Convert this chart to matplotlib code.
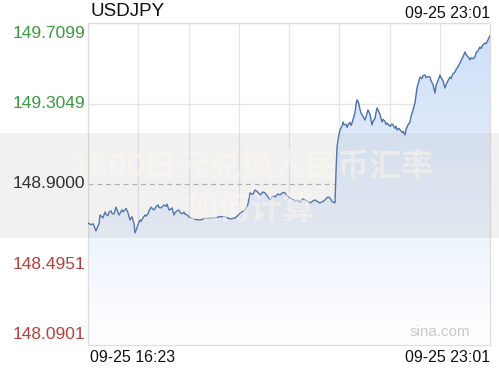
import numpy as np
import matplotlib
matplotlib.use("Agg")
import matplotlib.pyplot as plt
from matplotlib.patches import Rectangle
import matplotlib.transforms as mtransforms

plt.rcParams['font.family'] = ['Liberation Sans', 'Noto Sans CJK SC', 'DejaVu Sans']

title = "USDJPY"
time_start = "09-25 16:23"
time_end = "09-25 23:01"
total_minutes = 402
y_ticks = [149.7099, 149.3049, 148.9000, 148.4951, 148.0901]
y_tick_labels = ["149.7099", "149.3049", "148.9000", "148.4951", "148.0901"]
y_tick_colors = ["#3a9a3f", "#3a9a3f", "#222222", "#b8403a", "#b8403a"]
watermark_line1 = "1800日元兑换人民币汇率"
watermark_line2 = "如何计算"
source = "sina.com"

minutes = [0, 2, 3, 5, 6, 8, 10, 11, 12, 14, 15, 17, 18, 20, 21, 23, 24, 26, 28, 29, 31,
           32, 34, 35, 37, 38, 40, 42, 43, 44, 46, 47, 49, 50, 52, 53, 55, 57, 58, 60, 61,
           63, 65, 66, 68, 70, 71, 73, 75, 76, 78, 79, 81, 83, 84, 86, 87, 89, 91, 92, 94,
           96, 97, 99, 102, 107, 112, 117, 122, 127, 132, 137, 142, 147, 150, 152, 155,
           157, 160, 162, 165, 167, 170, 172, 175, 177, 180, 182, 185, 187, 190, 192, 195,
           197, 200, 202, 205, 207, 210, 212, 215, 217, 220, 222, 225, 227, 230, 232, 235,
           237, 240, 242, 244, 245, 247, 248, 249, 250, 251, 252, 254, 255, 256, 258, 259,
           260, 262, 263, 264, 266, 267, 268, 269, 270, 271, 272, 273, 275, 276, 277, 279,
           280, 281, 282, 284, 285, 287, 288, 289, 291, 292, 294, 295, 297, 298, 299, 301,
           302, 304, 305, 307, 308, 309, 311, 312, 314, 315, 317, 318, 320, 322, 323, 325,
           327, 329, 331, 332, 334, 335, 337, 338, 340, 342, 343, 345, 347, 348, 350, 352,
           353, 355, 357, 358, 360, 362, 363, 365, 367, 368, 370, 372, 373, 375, 377, 378,
           380, 382, 383, 385, 387, 388, 390, 392, 393, 395, 397, 398, 400, 402]
prices = [148.704, 148.698, 148.695, 148.700, 148.690, 148.664, 148.690, 148.700, 148.744,
          148.735, 148.730, 148.759, 148.748, 148.740, 148.758, 148.765, 148.752, 148.749,
          148.784, 148.770, 148.744, 148.752, 148.770, 148.760, 148.769, 148.778, 148.755,
          148.719, 148.728, 148.735, 148.700, 148.654, 148.680, 148.695, 148.719, 148.712,
          148.730, 148.744, 148.738, 148.750, 148.765, 148.784, 148.772, 148.770, 148.785,
          148.795, 148.782, 148.780, 148.790, 148.794, 148.788, 148.799, 148.769, 148.775,
          148.780, 148.744, 148.755, 148.765, 148.769, 148.758, 148.750, 148.759, 148.748,
          148.745, 148.729, 148.722, 148.719, 148.726, 148.729, 148.729, 148.736, 148.735,
          148.724, 148.729, 148.742, 148.754, 148.762, 148.769, 148.800, 148.855, 148.848,
          148.870, 148.858, 148.845, 148.860, 148.855, 148.835, 148.820, 148.840, 148.835,
          148.850, 148.845, 148.858, 148.855, 148.838, 148.830, 148.822, 148.815, 148.818,
          148.810, 148.825, 148.820, 148.812, 148.805, 148.815, 148.820, 148.810, 148.805,
          148.812, 148.820, 148.835, 148.830, 148.812, 148.810, 148.805, 148.960,
          149.086, 149.120, 149.150, 149.172, 149.190, 149.212, 149.198, 149.200, 149.185,
          149.197, 149.210, 149.195, 149.207, 149.240, 149.260, 149.300, 149.323, 149.315,
          149.300, 149.275, 149.257, 149.240, 149.232, 149.222, 149.255, 149.272, 149.262,
          149.250, 149.197, 149.215, 149.230, 149.260, 149.282, 149.262, 149.250, 149.212,
          149.225, 149.215, 149.200, 149.207, 149.195, 149.190, 149.202, 149.197, 149.180,
          149.190, 149.172, 149.180, 149.172, 149.160, 149.165, 149.147, 149.175, 149.197,
          149.212, 149.240, 149.272, 149.308, 149.383, 149.420, 149.438, 149.430, 149.445,
          149.448, 149.436, 149.440, 149.438, 149.420, 149.400, 149.358, 149.395, 149.420,
          149.448, 149.435, 149.420, 149.383, 149.400, 149.420, 149.438, 149.430, 149.455,
          149.463, 149.475, 149.490, 149.509, 149.520, 149.540, 149.564, 149.552, 149.540,
          149.524, 149.535, 149.530, 149.539, 149.560, 149.570, 149.589, 149.582, 149.600,
          149.609, 149.605, 149.625, 149.645]

W, H = 499, 370
fig = plt.figure(figsize=(W / 100, H / 100), dpi=100)
fig.patch.set_facecolor("white")
ax = fig.add_axes([88 / W, 25 / H, (490 - 88) / W, (345 - 23) / H])
ax.set_xlim(0, total_minutes)
ymin, ymax = y_ticks[-1], y_ticks[0]
ax.set_ylim(ymin, ymax)

# grid
for i in range(9):
    ax.axvline(total_minutes * i / 8, color="#e4e4e4", lw=0.9, zorder=1)
for v in y_ticks:
    if abs(v - 148.9) < 1e-6:
        ax.axhline(v, color="#b5b5b5", lw=0.9, ls=(0, (4, 3)), zorder=1)
    else:
        ax.axhline(v, color="#e4e4e4", lw=0.9, zorder=1)

# gradient fill under the line
x = np.array(minutes, dtype=float)
y = np.array(prices)
poly = ax.fill_between(x, y, ymin, color="none", lw=0)
grad = np.linspace(0, 1, 256).reshape(-1, 1)
top = np.array([0.80, 0.87, 0.97])
bot = np.array([1.0, 1.0, 1.0])
img = top[None, None, :] * (1 - grad[:, :, None]) + bot[None, None, :] * grad[:, :, None]
im = ax.imshow(img, extent=[0, total_minutes, ymin, ymax], aspect="auto", origin="upper", zorder=2)
path = poly.get_paths()[0]
im.set_clip_path(path, transform=ax.transData)
ax.plot(x, y, color="#4b72ad", lw=1.0, zorder=3)

for s in ax.spines.values():
    s.set_color("#dddddd")
    s.set_linewidth(0.9)
ax.set_xticks([])
ax.set_yticks([])

# y labels
trans = mtransforms.blended_transform_factory(fig.transFigure, ax.transData)
n = len(y_ticks)
for i, (v, lab, c) in enumerate(zip(y_ticks, y_tick_labels, y_tick_colors)):
    va = "top" if i == 0 else ("bottom" if i == n - 1 else "center")
    off = -2 if i == 0 else (2 if i == n - 1 else 0)
    ax.annotate(lab, xy=(85 / W, v), xycoords=trans, xytext=(0, off), textcoords="offset points",
                ha="right", va=va, fontsize=12.5, color=c)

fig.text(90 / W, 1 - 11 / H, title, ha="left", va="center", fontsize=13.5, color="#111111")
fig.text(490 / W, 1 - 13 / H, time_end, ha="right", va="center", fontsize=11.5, color="#111111")
fig.text(90 / W, 1 - 357 / H, time_start, ha="left", va="center", fontsize=11.5, color="#111111")
fig.text(490 / W, 1 - 357 / H, time_end, ha="right", va="center", fontsize=11.5, color="#111111")
fig.text(440 / W, 1 - 332 / H, source, ha="center", va="center", fontsize=11, color="#c9c9c9")

# watermark band
fig.patches.append(Rectangle((0, 1 - 238 / H), 1, (238 - 133) / H, transform=fig.transFigure,
                             facecolor=(0.6, 0.6, 0.6), alpha=0.13, edgecolor="none", zorder=5))
fig.text(252 / W, 1 - 166 / H, watermark_line1, ha="center", va="center", fontsize=23,
         fontweight="bold", color="#fdf5ee", alpha=0.55, zorder=6,
         family=["Noto Sans CJK SC", "DejaVu Sans"])
fig.text(251 / W, 1 - 210 / H, watermark_line2, ha="center", va="center", fontsize=23,
         fontweight="bold", color="#fdf5ee", alpha=0.55, zorder=6,
         family=["Noto Sans CJK SC", "DejaVu Sans"])

fig.savefig("out.png", dpi=100)
